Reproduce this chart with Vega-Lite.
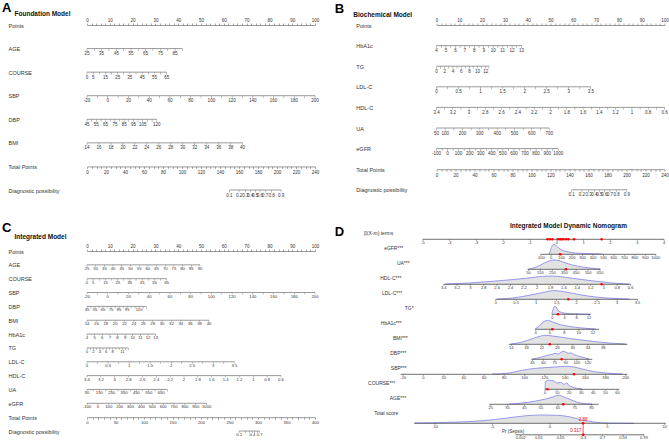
{
"$schema": "https://vega.github.io/schema/vega-lite/v6.json",
"background": "white",
"padding": {"left": 2, "top": 2, "right": 0, "bottom": 0},
"columns": 2,
"spacing": {"row": 25, "column": 15.5},
"align": "none",
"config": {"font": "Liberation Sans", "view": {"stroke": null}, "title": {"color": "#000"}},
"datasets": {
"A": [
{"r":"AGE","p":0,"t":"25"},{"r":"AGE","p":3.2,"t":""},{"r":"AGE","p":6.4,"t":"35"},{"r":"AGE","p":9.6,"t":""},{"r":"AGE","p":12.9,"t":"45"},{"r":"AGE","p":16.1,"t":""},{"r":"AGE","p":19.3,"t":"55"},{"r":"AGE","p":22.5,"t":""},{"r":"AGE","p":25.7,"t":"65"},{"r":"AGE","p":28.9,"t":""},{"r":"AGE","p":32.2,"t":"75"},{"r":"AGE","p":35.4,"t":""},{"r":"AGE","p":38.6,"t":"85"},{"r":"AGE","p":41.8,"t":""},
{"r":"COURSE","p":0,"t":"0"},{"r":"COURSE","p":2.7,"t":"5"},{"r":"COURSE","p":5.4,"t":""},{"r":"COURSE","p":8.1,"t":"15"},{"r":"COURSE","p":10.8,"t":""},{"r":"COURSE","p":13.5,"t":"25"},{"r":"COURSE","p":16.1,"t":""},{"r":"COURSE","p":18.8,"t":"35"},{"r":"COURSE","p":21.5,"t":""},{"r":"COURSE","p":24.2,"t":"45"},{"r":"COURSE","p":26.9,"t":""},{"r":"COURSE","p":29.6,"t":"55"},{"r":"COURSE","p":32.3,"t":""},{"r":"COURSE","p":35.0,"t":"65"},
{"r":"SBP","p":0,"t":"-20"},{"r":"SBP","p":4.55,"t":""},{"r":"SBP","p":9.09,"t":"0"},{"r":"SBP","p":13.64,"t":""},{"r":"SBP","p":18.18,"t":"20"},{"r":"SBP","p":22.73,"t":""},{"r":"SBP","p":27.27,"t":"40"},{"r":"SBP","p":31.82,"t":""},{"r":"SBP","p":36.36,"t":"60"},{"r":"SBP","p":40.91,"t":""},{"r":"SBP","p":45.45,"t":"80"},{"r":"SBP","p":50,"t":""},{"r":"SBP","p":54.55,"t":"100"},{"r":"SBP","p":59.09,"t":""},{"r":"SBP","p":63.64,"t":"120"},{"r":"SBP","p":68.18,"t":""},{"r":"SBP","p":72.73,"t":"140"},{"r":"SBP","p":77.27,"t":""},{"r":"SBP","p":81.82,"t":"160"},{"r":"SBP","p":86.36,"t":""},{"r":"SBP","p":90.91,"t":"180"},{"r":"SBP","p":95.45,"t":""},{"r":"SBP","p":100,"t":"200"},
{"r":"DBP","p":0,"t":"45"},{"r":"DBP","p":2.04,"t":""},{"r":"DBP","p":4.08,"t":"55"},{"r":"DBP","p":6.11,"t":""},{"r":"DBP","p":8.15,"t":"65"},{"r":"DBP","p":10.19,"t":""},{"r":"DBP","p":12.23,"t":"75"},{"r":"DBP","p":14.26,"t":""},{"r":"DBP","p":16.3,"t":"85"},{"r":"DBP","p":18.34,"t":""},{"r":"DBP","p":20.38,"t":"95"},{"r":"DBP","p":22.41,"t":""},{"r":"DBP","p":24.45,"t":"105"},{"r":"DBP","p":26.49,"t":""},{"r":"DBP","p":28.53,"t":""},{"r":"DBP","p":30.56,"t":"120"},
{"r":"BMI","p":0,"t":"14"},{"r":"BMI","p":5.25,"t":"16"},{"r":"BMI","p":10.5,"t":"18"},{"r":"BMI","p":15.75,"t":"20"},{"r":"BMI","p":21,"t":"22"},{"r":"BMI","p":26.25,"t":"24"},{"r":"BMI","p":31.5,"t":"26"},{"r":"BMI","p":36.75,"t":"28"},{"r":"BMI","p":42,"t":"30"},{"r":"BMI","p":47.25,"t":"32"},{"r":"BMI","p":52.5,"t":"34"},{"r":"BMI","p":57.75,"t":"36"},{"r":"BMI","p":63,"t":"38"},{"r":"BMI","p":68.25,"t":"40"}
],
"Ad": [
{"r":"Diagnostic possibility","p":149.9,"t":"0.1"},{"r":"Diagnostic possibility","p":160.0,"t":"0.2"},{"r":"Diagnostic possibility","p":166.6,"t":"0.3"},{"r":"Diagnostic possibility","p":172.1,"t":"0.4"},{"r":"Diagnostic possibility","p":177.1,"t":"0.5"},{"r":"Diagnostic possibility","p":182.1,"t":"0.6"},{"r":"Diagnostic possibility","p":187.6,"t":"0.7"},{"r":"Diagnostic possibility","p":194.3,"t":"0.8"},{"r":"Diagnostic possibility","p":204.3,"t":"0.9"}
],
"B": [
{"r":"HbA1c","p":0,"t":"4"},{"r":"HbA1c","p":2.07,"t":""},{"r":"HbA1c","p":4.14,"t":"5"},{"r":"HbA1c","p":6.21,"t":""},{"r":"HbA1c","p":8.28,"t":"6"},{"r":"HbA1c","p":10.36,"t":""},{"r":"HbA1c","p":12.43,"t":"7"},{"r":"HbA1c","p":14.5,"t":""},{"r":"HbA1c","p":16.57,"t":"8"},{"r":"HbA1c","p":18.64,"t":""},{"r":"HbA1c","p":20.71,"t":"9"},{"r":"HbA1c","p":22.78,"t":""},{"r":"HbA1c","p":24.85,"t":"10"},{"r":"HbA1c","p":26.92,"t":""},{"r":"HbA1c","p":29.0,"t":"11"},{"r":"HbA1c","p":31.07,"t":""},{"r":"HbA1c","p":33.14,"t":"12"},{"r":"HbA1c","p":35.21,"t":""},{"r":"HbA1c","p":37.28,"t":"13"},
{"r":"TG","p":0,"t":"0"},{"r":"TG","p":1.8,"t":""},{"r":"TG","p":3.61,"t":"2"},{"r":"TG","p":5.41,"t":""},{"r":"TG","p":7.21,"t":"4"},{"r":"TG","p":9.02,"t":""},{"r":"TG","p":10.82,"t":"6"},{"r":"TG","p":12.62,"t":""},{"r":"TG","p":14.42,"t":"8"},{"r":"TG","p":16.23,"t":""},{"r":"TG","p":18.03,"t":"10"},{"r":"TG","p":19.83,"t":""},{"r":"TG","p":21.64,"t":"12"},{"r":"TG","p":23.0,"t":""},
{"r":"LDL-C","p":0,"t":"0"},{"r":"LDL-C","p":4.84,"t":""},{"r":"LDL-C","p":9.67,"t":"0.5"},{"r":"LDL-C","p":14.51,"t":""},{"r":"LDL-C","p":19.34,"t":"1"},{"r":"LDL-C","p":24.18,"t":""},{"r":"LDL-C","p":29.01,"t":"1.5"},{"r":"LDL-C","p":33.85,"t":""},{"r":"LDL-C","p":38.68,"t":"2"},{"r":"LDL-C","p":43.52,"t":""},{"r":"LDL-C","p":48.35,"t":"2.5"},{"r":"LDL-C","p":53.19,"t":""},{"r":"LDL-C","p":58.02,"t":"3"},{"r":"LDL-C","p":62.86,"t":""},{"r":"LDL-C","p":67.69,"t":"3.5"},
{"r":"HDL-C","p":0,"t":"3.4"},{"r":"HDL-C","p":3.57,"t":""},{"r":"HDL-C","p":7.14,"t":"3.2"},{"r":"HDL-C","p":10.71,"t":""},{"r":"HDL-C","p":14.29,"t":"3"},{"r":"HDL-C","p":17.86,"t":""},{"r":"HDL-C","p":21.43,"t":"2.8"},{"r":"HDL-C","p":25,"t":""},{"r":"HDL-C","p":28.57,"t":"2.6"},{"r":"HDL-C","p":32.14,"t":""},{"r":"HDL-C","p":35.71,"t":"2.4"},{"r":"HDL-C","p":39.29,"t":""},{"r":"HDL-C","p":42.86,"t":"2.2"},{"r":"HDL-C","p":46.43,"t":""},{"r":"HDL-C","p":50,"t":"2"},{"r":"HDL-C","p":53.57,"t":""},{"r":"HDL-C","p":57.14,"t":"1.8"},{"r":"HDL-C","p":60.71,"t":""},{"r":"HDL-C","p":64.29,"t":"1.6"},{"r":"HDL-C","p":67.86,"t":""},{"r":"HDL-C","p":71.43,"t":"1.4"},{"r":"HDL-C","p":75,"t":""},{"r":"HDL-C","p":78.57,"t":"1.2"},{"r":"HDL-C","p":82.14,"t":""},{"r":"HDL-C","p":85.71,"t":"1"},{"r":"HDL-C","p":89.29,"t":""},{"r":"HDL-C","p":92.86,"t":"0.8"},{"r":"HDL-C","p":96.43,"t":""},{"r":"HDL-C","p":100,"t":"0.6"},
{"r":"UA","p":0,"t":"50"},{"r":"UA","p":3.8,"t":"100"},{"r":"UA","p":7.6,"t":""},{"r":"UA","p":11.4,"t":"200"},{"r":"UA","p":15.2,"t":""},{"r":"UA","p":19.0,"t":"300"},{"r":"UA","p":22.8,"t":""},{"r":"UA","p":26.6,"t":"400"},{"r":"UA","p":30.4,"t":""},{"r":"UA","p":34.2,"t":"500"},{"r":"UA","p":38.0,"t":""},{"r":"UA","p":41.8,"t":"600"},{"r":"UA","p":45.6,"t":""},{"r":"UA","p":49.4,"t":"700"},
{"r":"eGFR","p":0,"t":"-100"},{"r":"eGFR","p":2.43,"t":""},{"r":"eGFR","p":4.85,"t":"0"},{"r":"eGFR","p":7.28,"t":""},{"r":"eGFR","p":9.7,"t":"100"},{"r":"eGFR","p":12.13,"t":""},{"r":"eGFR","p":14.56,"t":"200"},{"r":"eGFR","p":16.98,"t":""},{"r":"eGFR","p":19.41,"t":"300"},{"r":"eGFR","p":21.83,"t":""},{"r":"eGFR","p":24.26,"t":"400"},{"r":"eGFR","p":26.69,"t":""},{"r":"eGFR","p":29.11,"t":"500"},{"r":"eGFR","p":31.54,"t":""},{"r":"eGFR","p":33.96,"t":"600"},{"r":"eGFR","p":36.39,"t":""},{"r":"eGFR","p":38.82,"t":"700"},{"r":"eGFR","p":41.24,"t":""},{"r":"eGFR","p":43.67,"t":"800"},{"r":"eGFR","p":46.09,"t":""},{"r":"eGFR","p":48.52,"t":"900"},{"r":"eGFR","p":50.95,"t":""},{"r":"eGFR","p":53.37,"t":"1000"}
],
"Bd": [
{"r":"Diagnostic possibility","p":142.3,"t":"0.1"},{"r":"Diagnostic possibility","p":153.1,"t":"0.2"},{"r":"Diagnostic possibility","p":160.2,"t":"0.3"},{"r":"Diagnostic possibility","p":166.1,"t":"0.4"},{"r":"Diagnostic possibility","p":171.4,"t":"0.5"},{"r":"Diagnostic possibility","p":176.6,"t":"0.6"},{"r":"Diagnostic possibility","p":182.5,"t":"0.7"},{"r":"Diagnostic possibility","p":189.6,"t":"0.8"},{"r":"Diagnostic possibility","p":200.4,"t":"0.9"}
],
"C": [
{"r":"AGE","p":0,"t":"25"},{"r":"AGE","p":3.81,"t":"30"},{"r":"AGE","p":7.63,"t":"35"},{"r":"AGE","p":11.44,"t":"40"},{"r":"AGE","p":15.25,"t":"45"},{"r":"AGE","p":19.07,"t":"50"},{"r":"AGE","p":22.88,"t":"55"},{"r":"AGE","p":26.69,"t":"60"},{"r":"AGE","p":30.5,"t":"65"},{"r":"AGE","p":34.32,"t":"70"},{"r":"AGE","p":38.13,"t":"75"},{"r":"AGE","p":41.94,"t":"80"},{"r":"AGE","p":45.76,"t":"85"},{"r":"AGE","p":49.57,"t":"90"},
{"r":"COURSE","p":0,"t":"0"},{"r":"COURSE","p":2.7,"t":"5"},{"r":"COURSE","p":5.4,"t":""},{"r":"COURSE","p":8.1,"t":"15"},{"r":"COURSE","p":10.8,"t":""},{"r":"COURSE","p":13.5,"t":"25"},{"r":"COURSE","p":16.1,"t":""},{"r":"COURSE","p":18.8,"t":"35"},{"r":"COURSE","p":21.5,"t":""},{"r":"COURSE","p":24.2,"t":"45"},{"r":"COURSE","p":26.9,"t":""},{"r":"COURSE","p":29.6,"t":"55"},{"r":"COURSE","p":32.3,"t":""},{"r":"COURSE","p":35.0,"t":"65"},
{"r":"SBP","p":0,"t":"-20"},{"r":"SBP","p":4.55,"t":""},{"r":"SBP","p":9.09,"t":"0"},{"r":"SBP","p":13.64,"t":""},{"r":"SBP","p":18.18,"t":"20"},{"r":"SBP","p":22.73,"t":""},{"r":"SBP","p":27.27,"t":"40"},{"r":"SBP","p":31.82,"t":""},{"r":"SBP","p":36.36,"t":"60"},{"r":"SBP","p":40.91,"t":""},{"r":"SBP","p":45.45,"t":"80"},{"r":"SBP","p":50,"t":""},{"r":"SBP","p":54.55,"t":"100"},{"r":"SBP","p":59.09,"t":""},{"r":"SBP","p":63.64,"t":"120"},{"r":"SBP","p":68.18,"t":""},{"r":"SBP","p":72.73,"t":"140"},{"r":"SBP","p":77.27,"t":""},{"r":"SBP","p":81.82,"t":"160"},{"r":"SBP","p":86.36,"t":""},{"r":"SBP","p":90.91,"t":"180"},{"r":"SBP","p":95.45,"t":""},{"r":"SBP","p":100,"t":"200"},
{"r":"DBP","p":0,"t":"45"},{"r":"DBP","p":1.76,"t":""},{"r":"DBP","p":3.52,"t":"55"},{"r":"DBP","p":5.28,"t":""},{"r":"DBP","p":7.04,"t":"65"},{"r":"DBP","p":8.8,"t":""},{"r":"DBP","p":10.56,"t":"75"},{"r":"DBP","p":12.32,"t":""},{"r":"DBP","p":14.08,"t":"85"},{"r":"DBP","p":15.84,"t":""},{"r":"DBP","p":17.6,"t":"95"},{"r":"DBP","p":19.36,"t":""},{"r":"DBP","p":21.12,"t":""},{"r":"DBP","p":22.88,"t":"110"},{"r":"DBP","p":24.64,"t":""},{"r":"DBP","p":26.0,"t":""},
{"r":"BMI","p":0,"t":"14"},{"r":"BMI","p":4.12,"t":"16"},{"r":"BMI","p":8.23,"t":"18"},{"r":"BMI","p":12.35,"t":"20"},{"r":"BMI","p":16.46,"t":"22"},{"r":"BMI","p":20.58,"t":"24"},{"r":"BMI","p":24.7,"t":"26"},{"r":"BMI","p":28.81,"t":"28"},{"r":"BMI","p":32.93,"t":"30"},{"r":"BMI","p":37.04,"t":"32"},{"r":"BMI","p":41.16,"t":"34"},{"r":"BMI","p":45.28,"t":"36"},{"r":"BMI","p":49.39,"t":"38"},{"r":"BMI","p":53.51,"t":"40"},
{"r":"HbA1c","p":0,"t":"4"},{"r":"HbA1c","p":3.35,"t":"5"},{"r":"HbA1c","p":6.69,"t":"6"},{"r":"HbA1c","p":10.04,"t":"7"},{"r":"HbA1c","p":13.38,"t":"8"},{"r":"HbA1c","p":16.73,"t":"9"},{"r":"HbA1c","p":20.07,"t":"10"},{"r":"HbA1c","p":23.42,"t":"11"},{"r":"HbA1c","p":26.76,"t":"12"},{"r":"HbA1c","p":30.11,"t":"13"},
{"r":"TG","p":0,"t":"0"},{"r":"TG","p":1.41,"t":""},{"r":"TG","p":2.82,"t":"2"},{"r":"TG","p":4.23,"t":""},{"r":"TG","p":5.64,"t":"4"},{"r":"TG","p":7.05,"t":""},{"r":"TG","p":8.46,"t":"6"},{"r":"TG","p":9.87,"t":""},{"r":"TG","p":11.28,"t":"8"},{"r":"TG","p":12.69,"t":""},{"r":"TG","p":14.1,"t":""},{"r":"TG","p":15.51,"t":"11"},{"r":"TG","p":16.92,"t":""},{"r":"TG","p":18.1,"t":""},
{"r":"LDL-C","p":0,"t":"0"},{"r":"LDL-C","p":4.62,"t":""},{"r":"LDL-C","p":9.23,"t":"0.5"},{"r":"LDL-C","p":13.85,"t":""},{"r":"LDL-C","p":18.46,"t":"1"},{"r":"LDL-C","p":23.08,"t":""},{"r":"LDL-C","p":27.69,"t":"1.5"},{"r":"LDL-C","p":32.31,"t":""},{"r":"LDL-C","p":36.92,"t":"2"},{"r":"LDL-C","p":41.54,"t":""},{"r":"LDL-C","p":46.15,"t":"2.5"},{"r":"LDL-C","p":50.77,"t":""},{"r":"LDL-C","p":55.38,"t":"3"},{"r":"LDL-C","p":60,"t":""},{"r":"LDL-C","p":64.61,"t":"3.5"},
{"r":"HDL-C","p":0,"t":"3.4"},{"r":"HDL-C","p":6.08,"t":"3.2"},{"r":"HDL-C","p":12.16,"t":"3"},{"r":"HDL-C","p":18.23,"t":"2.8"},{"r":"HDL-C","p":24.31,"t":"2.6"},{"r":"HDL-C","p":30.39,"t":"2.4"},{"r":"HDL-C","p":36.47,"t":"2.2"},{"r":"HDL-C","p":42.55,"t":"2"},{"r":"HDL-C","p":48.62,"t":"1.8"},{"r":"HDL-C","p":54.7,"t":"1.6"},{"r":"HDL-C","p":60.78,"t":"1.4"},{"r":"HDL-C","p":66.86,"t":"1.2"},{"r":"HDL-C","p":72.94,"t":"1"},{"r":"HDL-C","p":79.01,"t":"0.8"},{"r":"HDL-C","p":85.09,"t":"0.6"},
{"r":"UA","p":0,"t":"50"},{"r":"UA","p":2.71,"t":""},{"r":"UA","p":5.42,"t":"150"},{"r":"UA","p":8.13,"t":""},{"r":"UA","p":10.84,"t":"250"},{"r":"UA","p":13.55,"t":""},{"r":"UA","p":16.26,"t":"350"},{"r":"UA","p":18.97,"t":""},{"r":"UA","p":21.68,"t":"450"},{"r":"UA","p":24.39,"t":""},{"r":"UA","p":27.1,"t":"550"},{"r":"UA","p":29.81,"t":""},{"r":"UA","p":32.52,"t":"650"},{"r":"UA","p":35.23,"t":""},
{"r":"eGFR","p":0,"t":"-100"},{"r":"eGFR","p":4.77,"t":"0"},{"r":"eGFR","p":9.54,"t":"100"},{"r":"eGFR","p":14.31,"t":"200"},{"r":"eGFR","p":19.08,"t":"300"},{"r":"eGFR","p":23.85,"t":"400"},{"r":"eGFR","p":28.62,"t":"500"},{"r":"eGFR","p":33.39,"t":"600"},{"r":"eGFR","p":38.16,"t":"700"},{"r":"eGFR","p":42.93,"t":"800"},{"r":"eGFR","p":47.7,"t":"900"},{"r":"eGFR","p":52.47,"t":"1000"}
],
"Cd": [
{"r":"Diagnostic possibility","p":266.8,"t":"0.1"},{"r":"Diagnostic possibility","p":278.0,"t":""},{"r":"Diagnostic possibility","p":284.8,"t":""},{"r":"Diagnostic possibility","p":290.0,"t":"0.4"},{"r":"Diagnostic possibility","p":294.4,"t":""},{"r":"Diagnostic possibility","p":298.8,"t":""},{"r":"Diagnostic possibility","p":302.8,"t":"0.7"}
],
"D": [
{"r":"β(X-m) terms","k":"t","p":-5,"t":"-5"},{"r":"β(X-m) terms","k":"t","p":-4,"t":"-4"},{"r":"β(X-m) terms","k":"t","p":-3,"t":"-3"},{"r":"β(X-m) terms","k":"t","p":-2,"t":"-2"},{"r":"β(X-m) terms","k":"t","p":-1,"t":"-1"},{"r":"β(X-m) terms","k":"t","p":0,"t":"0"},{"r":"β(X-m) terms","k":"t","p":1,"t":"1"},{"r":"β(X-m) terms","k":"t","p":2,"t":"2"},{"r":"β(X-m) terms","k":"t","p":3,"t":"3"},{"r":"β(X-m) terms","k":"t","p":4,"t":"4"},
{"r":"β(X-m) terms","k":"r","p":-0.35},{"r":"β(X-m) terms","k":"r","p":-0.26},{"r":"β(X-m) terms","k":"r","p":-0.17},{"r":"β(X-m) terms","k":"r","p":0.04},{"r":"β(X-m) terms","k":"r","p":0.12},{"r":"β(X-m) terms","k":"r","p":0.18},{"r":"β(X-m) terms","k":"r","p":0.24},{"r":"β(X-m) terms","k":"r","p":0.34},{"r":"β(X-m) terms","k":"r","p":0.43},{"r":"β(X-m) terms","k":"r","p":0.64},{"r":"β(X-m) terms","k":"r","p":1.67},
{"r":"eGFR***","k":"t","p":-0.6,"t":"-100"},{"r":"eGFR***","k":"t","p":-0.21,"t":"0"},{"r":"eGFR***","k":"t","p":0.18,"t":"100"},{"r":"eGFR***","k":"t","p":0.57,"t":"200"},{"r":"eGFR***","k":"t","p":0.96,"t":"300"},{"r":"eGFR***","k":"t","p":1.35,"t":"400"},{"r":"eGFR***","k":"t","p":1.74,"t":"500"},{"r":"eGFR***","k":"t","p":2.13,"t":"600"},{"r":"eGFR***","k":"t","p":2.52,"t":"700"},{"r":"eGFR***","k":"t","p":2.91,"t":"800"},{"r":"eGFR***","k":"t","p":3.3,"t":"900"},{"r":"eGFR***","k":"t","p":3.69,"t":"1000"},
{"r":"eGFR***","k":"d","p":-0.29,"h":0.3},{"r":"eGFR***","k":"d","p":-0.23,"h":4.7},{"r":"eGFR***","k":"d","p":-0.17,"h":8.7},{"r":"eGFR***","k":"d","p":-0.11,"h":10},{"r":"eGFR***","k":"d","p":-0.02,"h":8.7},{"r":"eGFR***","k":"d","p":0.08,"h":6},{"r":"eGFR***","k":"d","p":0.2,"h":4},{"r":"eGFR***","k":"d","p":0.39,"h":2.7},{"r":"eGFR***","k":"d","p":0.7,"h":1.3},{"r":"eGFR***","k":"d","p":1.2,"h":0.7},{"r":"eGFR***","k":"d","p":1.7,"h":0.3},
{"r":"eGFR***","k":"r","p":0.12},
{"r":"UA***","k":"t","p":-1.06,"t":"50"},{"r":"UA***","k":"t","p":-0.615,"t":"150"},{"r":"UA***","k":"t","p":-0.17,"t":"250"},{"r":"UA***","k":"t","p":0.28,"t":"350"},{"r":"UA***","k":"t","p":0.72,"t":"450"},{"r":"UA***","k":"t","p":1.17,"t":"550"},{"r":"UA***","k":"t","p":1.61,"t":"650"},
{"r":"UA***","k":"d","p":-1.1,"h":0},{"r":"UA***","k":"d","p":-0.79,"h":2},{"r":"UA***","k":"d","p":-0.54,"h":5.3},{"r":"UA***","k":"d","p":-0.29,"h":8.3},{"r":"UA***","k":"d","p":-0.11,"h":9.3},{"r":"UA***","k":"d","p":0.08,"h":8.7},{"r":"UA***","k":"d","p":0.33,"h":6.3},{"r":"UA***","k":"d","p":0.58,"h":4.3},{"r":"UA***","k":"d","p":0.95,"h":2.3},{"r":"UA***","k":"d","p":1.32,"h":1},{"r":"UA***","k":"d","p":1.63,"h":0.3},
{"r":"UA***","k":"r","p":0.34},
{"r":"HDL-C***","k":"t","p":-4.22,"t":"3.4"},{"r":"HDL-C***","k":"t","p":-3.72,"t":"3.2"},{"r":"HDL-C***","k":"t","p":-3.23,"t":"3"},{"r":"HDL-C***","k":"t","p":-2.73,"t":"2.8"},{"r":"HDL-C***","k":"t","p":-2.23,"t":"2.6"},{"r":"HDL-C***","k":"t","p":-1.73,"t":"2.4"},{"r":"HDL-C***","k":"t","p":-1.23,"t":"2.2"},{"r":"HDL-C***","k":"t","p":-0.74,"t":"2"},{"r":"HDL-C***","k":"t","p":-0.24,"t":"1.8"},{"r":"HDL-C***","k":"t","p":0.26,"t":"1.6"},{"r":"HDL-C***","k":"t","p":0.76,"t":"1.4"},{"r":"HDL-C***","k":"t","p":1.26,"t":"1.2"},{"r":"HDL-C***","k":"t","p":1.75,"t":"1"},{"r":"HDL-C***","k":"t","p":2.25,"t":"0.8"},{"r":"HDL-C***","k":"t","p":2.75,"t":"0.6"},
{"r":"HDL-C***","k":"d","p":-4.15,"h":0.3},{"r":"HDL-C***","k":"d","p":-3.28,"h":1.3},{"r":"HDL-C***","k":"d","p":-2.41,"h":3},{"r":"HDL-C***","k":"d","p":-1.66,"h":4.7},{"r":"HDL-C***","k":"d","p":-1.04,"h":6.3},{"r":"HDL-C***","k":"d","p":-0.54,"h":8},{"r":"HDL-C***","k":"d","p":-0.17,"h":8.3},{"r":"HDL-C***","k":"d","p":0.33,"h":7},{"r":"HDL-C***","k":"d","p":0.95,"h":4.7},{"r":"HDL-C***","k":"d","p":1.57,"h":2.7},{"r":"HDL-C***","k":"d","p":2.19,"h":1},{"r":"HDL-C***","k":"d","p":2.69,"h":0.3},
{"r":"HDL-C***","k":"r","p":1.67},
{"r":"LDL-C***","k":"t","p":-2.28,"t":"0"},{"r":"LDL-C***","k":"t","p":-1.52,"t":"0.5"},{"r":"LDL-C***","k":"t","p":-0.77,"t":"1"},{"r":"LDL-C***","k":"t","p":-0.01,"t":"1.5"},{"r":"LDL-C***","k":"t","p":0.74,"t":"2"},{"r":"LDL-C***","k":"t","p":1.5,"t":"2.5"},{"r":"LDL-C***","k":"t","p":2.25,"t":"3"},{"r":"LDL-C***","k":"t","p":3.01,"t":"3.5"},
{"r":"LDL-C***","k":"d","p":-2.22,"h":0.3},{"r":"LDL-C***","k":"d","p":-1.66,"h":1.3},{"r":"LDL-C***","k":"d","p":-1.04,"h":4},{"r":"LDL-C***","k":"d","p":-0.54,"h":6.7},{"r":"LDL-C***","k":"d","p":-0.11,"h":8.7},{"r":"LDL-C***","k":"d","p":0.33,"h":7.3},{"r":"LDL-C***","k":"d","p":0.83,"h":4.7},{"r":"LDL-C***","k":"d","p":1.45,"h":2.3},{"r":"LDL-C***","k":"d","p":2.07,"h":1},{"r":"LDL-C***","k":"d","p":2.69,"h":0.3},
{"r":"LDL-C***","k":"r","p":0.43},
{"r":"TG*","k":"t","p":-0.17,"t":"0"},{"r":"TG*","k":"t","p":0.29,"t":"4"},{"r":"TG*","k":"t","p":0.74,"t":"8"},{"r":"TG*","k":"t","p":1.2,"t":"12"},{"r":"TG*","k":"e","p":1.26},
{"r":"TG*","k":"d","p":-0.19,"h":0.3},{"r":"TG*","k":"d","p":-0.14,"h":5},{"r":"TG*","k":"d","p":-0.09,"h":8},{"r":"TG*","k":"d","p":-0.02,"h":7},{"r":"TG*","k":"d","p":0.05,"h":3.7},{"r":"TG*","k":"d","p":0.2,"h":1.7},{"r":"TG*","k":"d","p":0.45,"h":0.7},{"r":"TG*","k":"d","p":0.83,"h":0.3},{"r":"TG*","k":"d","p":1.26,"h":0},
{"r":"TG*","k":"r","p":0.04},
{"r":"HbA1c***","k":"t","p":-0.79,"t":"4"},{"r":"HbA1c***","k":"t","p":-0.26,"t":"6"},{"r":"HbA1c***","k":"t","p":0.28,"t":"8"},{"r":"HbA1c***","k":"t","p":0.82,"t":"10"},{"r":"HbA1c***","k":"t","p":1.35,"t":"12"},{"r":"HbA1c***","k":"e","p":1.58},
{"r":"HbA1c***","k":"d","p":-0.82,"h":0.3},{"r":"HbA1c***","k":"d","p":-0.67,"h":3},{"r":"HbA1c***","k":"d","p":-0.52,"h":7},{"r":"HbA1c***","k":"d","p":-0.35,"h":9},{"r":"HbA1c***","k":"d","p":-0.17,"h":7.5},{"r":"HbA1c***","k":"d","p":0.08,"h":5},{"r":"HbA1c***","k":"d","p":0.33,"h":3.5},{"r":"HbA1c***","k":"d","p":0.7,"h":2},{"r":"HbA1c***","k":"d","p":1.07,"h":1},{"r":"HbA1c***","k":"d","p":1.45,"h":0.3},
{"r":"HbA1c***","k":"r","p":-0.17},
{"r":"BMI***","k":"t","p":-1.7,"t":"14"},{"r":"BMI***","k":"t","p":-1.13,"t":"18"},{"r":"BMI***","k":"t","p":-0.56,"t":"22"},{"r":"BMI***","k":"t","p":0.02,"t":"26"},{"r":"BMI***","k":"t","p":0.59,"t":"30"},{"r":"BMI***","k":"t","p":1.16,"t":"34"},{"r":"BMI***","k":"t","p":1.73,"t":"38"},{"r":"BMI***","k":"e","p":-1.79},{"r":"BMI***","k":"e","p":2.63},
{"r":"BMI***","k":"d","p":-1.72,"h":0.3},{"r":"BMI***","k":"d","p":-1.29,"h":2.3},{"r":"BMI***","k":"d","p":-0.91,"h":5.7},{"r":"BMI***","k":"d","p":-0.6,"h":8.3},{"r":"BMI***","k":"d","p":-0.42,"h":9},{"r":"BMI***","k":"d","p":-0.17,"h":8.3},{"r":"BMI***","k":"d","p":0.2,"h":7},{"r":"BMI***","k":"d","p":0.7,"h":5},{"r":"BMI***","k":"d","p":1.32,"h":3},{"r":"BMI***","k":"d","p":1.94,"h":1.3},{"r":"BMI***","k":"d","p":2.57,"h":0.3},
{"r":"BMI***","k":"r","p":-0.26},
{"r":"DBP***","k":"t","p":-0.91,"t":"45"},{"r":"DBP***","k":"t","p":-0.5,"t":"60"},{"r":"DBP***","k":"t","p":-0.08,"t":"75"},{"r":"DBP***","k":"t","p":0.33,"t":"90"},{"r":"DBP***","k":"t","p":0.75,"t":"105"},{"r":"DBP***","k":"t","p":1.16,"t":"120"},{"r":"DBP***","k":"e","p":-0.95},{"r":"DBP***","k":"e","p":1.32},
{"r":"DBP***","k":"d","p":-0.91,"h":0.3},{"r":"DBP***","k":"d","p":-0.6,"h":2},{"r":"DBP***","k":"d","p":-0.35,"h":4},{"r":"DBP***","k":"d","p":-0.17,"h":5},{"r":"DBP***","k":"d","p":-0.05,"h":6},{"r":"DBP***","k":"d","p":0.05,"h":5.3},{"r":"DBP***","k":"d","p":0.14,"h":6.7},{"r":"DBP***","k":"d","p":0.24,"h":8},{"r":"DBP***","k":"d","p":0.33,"h":7.3},{"r":"DBP***","k":"d","p":0.43,"h":6},{"r":"DBP***","k":"d","p":0.53,"h":6.3},{"r":"DBP***","k":"d","p":0.64,"h":4.7},{"r":"DBP***","k":"d","p":0.83,"h":3},{"r":"DBP***","k":"d","p":1.01,"h":1.7},{"r":"DBP***","k":"d","p":1.2,"h":0.3},
{"r":"DBP***","k":"r","p":0.18},
{"r":"SBP***","k":"t","p":-5.73,"t":"-20"},{"r":"SBP***","k":"t","p":-4.98,"t":"0"},{"r":"SBP***","k":"t","p":-4.22,"t":"20"},{"r":"SBP***","k":"t","p":-3.47,"t":"40"},{"r":"SBP***","k":"t","p":-2.71,"t":"60"},{"r":"SBP***","k":"t","p":-1.96,"t":"80"},{"r":"SBP***","k":"t","p":-1.2,"t":"100"},{"r":"SBP***","k":"t","p":-0.45,"t":"120"},{"r":"SBP***","k":"t","p":0.31,"t":"140"},{"r":"SBP***","k":"t","p":1.06,"t":"160"},{"r":"SBP***","k":"t","p":1.82,"t":"180"},{"r":"SBP***","k":"t","p":2.57,"t":"200"},{"r":"SBP***","k":"e","p":-5.83},{"r":"SBP***","k":"e","p":2.63},
{"r":"SBP***","k":"d","p":-2.41,"h":0.3},{"r":"SBP***","k":"d","p":-1.79,"h":1.3},{"r":"SBP***","k":"d","p":-1.29,"h":4},{"r":"SBP***","k":"d","p":-0.79,"h":6},{"r":"SBP***","k":"d","p":-0.42,"h":6.7},{"r":"SBP***","k":"d","p":-0.05,"h":7.3},{"r":"SBP***","k":"d","p":0.33,"h":8},{"r":"SBP***","k":"d","p":0.64,"h":7.3},{"r":"SBP***","k":"d","p":0.95,"h":5.3},{"r":"SBP***","k":"d","p":1.32,"h":3},{"r":"SBP***","k":"d","p":1.82,"h":1.3},{"r":"SBP***","k":"d","p":2.44,"h":0.3},
{"r":"SBP***","k":"r","p":0.64},
{"r":"COURSE***","k":"t","p":-0.44,"t":"0"},{"r":"COURSE***","k":"t","p":0.01,"t":"10"},{"r":"COURSE***","k":"t","p":0.46,"t":"20"},{"r":"COURSE***","k":"t","p":0.91,"t":"30"},{"r":"COURSE***","k":"t","p":1.36,"t":"40"},{"r":"COURSE***","k":"t","p":1.81,"t":"50"},{"r":"COURSE***","k":"t","p":2.26,"t":"60"},{"r":"COURSE***","k":"e","p":2.33},
{"r":"COURSE***","k":"d","p":-0.44,"h":0},{"r":"COURSE***","k":"d","p":-0.43,"h":7.3},{"r":"COURSE***","k":"d","p":-0.29,"h":9},{"r":"COURSE***","k":"d","p":-0.11,"h":8.3},{"r":"COURSE***","k":"d","p":0.02,"h":6.3},{"r":"COURSE***","k":"d","p":0.14,"h":7},{"r":"COURSE***","k":"d","p":0.27,"h":5},{"r":"COURSE***","k":"d","p":0.37,"h":6.3},{"r":"COURSE***","k":"d","p":0.45,"h":4},{"r":"COURSE***","k":"d","p":0.58,"h":2.3},{"r":"COURSE***","k":"d","p":0.76,"h":1},{"r":"COURSE***","k":"d","p":0.95,"h":0.3},
{"r":"COURSE***","k":"r","p":-0.35},
{"r":"AGE***","k":"t","p":-2.47,"t":"25"},{"r":"AGE***","k":"t","p":-1.84,"t":"35"},{"r":"AGE***","k":"t","p":-1.21,"t":"45"},{"r":"AGE***","k":"t","p":-0.59,"t":"55"},{"r":"AGE***","k":"t","p":0.04,"t":"65"},{"r":"AGE***","k":"t","p":0.67,"t":"75"},{"r":"AGE***","k":"t","p":1.3,"t":"85"},{"r":"AGE***","k":"e","p":-2.52},{"r":"AGE***","k":"e","p":1.56},
{"r":"AGE***","k":"d","p":-1.79,"h":0.3},{"r":"AGE***","k":"d","p":-1.29,"h":1.3},{"r":"AGE***","k":"d","p":-0.79,"h":3.3},{"r":"AGE***","k":"d","p":-0.42,"h":5.3},{"r":"AGE***","k":"d","p":-0.11,"h":7.7},{"r":"AGE***","k":"d","p":0.05,"h":9},{"r":"AGE***","k":"d","p":0.27,"h":7.3},{"r":"AGE***","k":"d","p":0.51,"h":4.7},{"r":"AGE***","k":"d","p":0.76,"h":2},{"r":"AGE***","k":"d","p":1.01,"h":0.7},{"r":"AGE***","k":"d","p":1.32,"h":0.3},
{"r":"AGE***","k":"r","p":0.24},
{"r":"Total score","k":"t","p":-4.54,"t":"-10"},{"r":"Total score","k":"t","p":-2.4,"t":"-5"},{"r":"Total score","k":"t","p":-0.26,"t":"0"},{"r":"Total score","k":"t","p":1.88,"t":"5"},{"r":"Total score","k":"t","p":4.02,"t":"10"},{"r":"Total score","k":"e","p":-5.31},{"r":"Total score","k":"e","p":4.06},
{"r":"Total score","k":"d","p":-5.33,"h":0.3},{"r":"Total score","k":"d","p":-3.96,"h":1},{"r":"Total score","k":"d","p":-2.72,"h":2.7},{"r":"Total score","k":"d","p":-1.85,"h":5.3},{"r":"Total score","k":"d","p":-1.1,"h":7.7},{"r":"Total score","k":"d","p":-0.48,"h":8.3},{"r":"Total score","k":"d","p":0.02,"h":8},{"r":"Total score","k":"d","p":0.51,"h":6.3},{"r":"Total score","k":"d","p":0.95,"h":3.3},{"r":"Total score","k":"d","p":1.38,"h":1.3},{"r":"Total score","k":"d","p":1.88,"h":0.3},{"r":"Total score","k":"d","p":2.88,"h":0},
{"r":"Total score","k":"r","p":0.98},{"r":"Total score","k":"s","p":0.98,"t":"2.88"},
{"r":" ","k":"t","p":-1.35,"t":"0.002"},{"r":" ","k":"t","p":-0.67,"t":"0.01"},{"r":" ","k":"t","p":0.14,"t":"0.05"},{"r":" ","k":"t","p":0.99,"t":"0.3"},{"r":" ","k":"t","p":1.7,"t":"0.7"},{"r":" ","k":"t","p":2.47,"t":"0.94"},{"r":" ","k":"t","p":3.25,"t":"0.99"},{"r":" ","k":"e","p":-1.54},
{"r":" ","k":"r","p":0.98},{"r":" ","k":"s","p":0.98,"t":"0.317"},{"r":" ","k":"n","p":-1.63,"t":"Pr (Sepsis)"}
]
},
"concat": [
{
"title": {"text": "A", "anchor": "start", "frame": "bounds", "fontSize": 13, "fontWeight": "bold", "dx": -6, "offset": -5},
"width": 228, "height": 165,
"encoding": {"y": {"field": "r", "type": "nominal", "scale": {"type": "point", "padding": 0, "domain": ["Points","AGE","COURSE","SBP","DBP","BMI","Total Points","Diagnostic possibility"]}, "axis": {"title": null, "domain": false, "ticks": false, "tickSize": 0, "labelAlign": "left", "labelPadding": 79, "labelFontSize": 5.5, "labelColor": "#333", "labelBaseline": "middle", "labelLimit": 0}}},
"layer": [
{"data": {"name": "A"},
"encoding": {"x": {"field": "p", "type": "quantitative", "scale": {"domain": [0,100], "nice": false, "zero": false}, "axis": {"orient": "top", "tickCount": 50, "labelExpr": "datum.value % 10 === 0 ? datum.label : ''", "labelFlush": false, "labelOverlap": false, "grid": false, "domainColor": "#555", "domainWidth": 0.6, "tickColor": "#555", "tickWidth": 0.5, "tickSize": 2, "labelFontSize": 4.5, "labelColor": "#333", "labelPadding": 1, "title": "Foundation Model", "titleX": -73, "titleY": -12, "titleAlign": "left", "titleBaseline": "middle", "titleAngle": 0, "titleFontSize": 6.5, "titleFontWeight": "bold", "titleColor": "#111"}}},
"layer": [
{"mark": {"type": "line", "color": "#555", "strokeWidth": 0.6}, "encoding": {"detail": {"field": "r"}}},
{"mark": {"type": "tick", "orient": "vertical", "size": 2.5, "thickness": 0.5, "yOffset": 1.2, "color": "#555"}},
{"transform": [{"filter": "datum.t !== ''"}], "mark": {"type": "text", "baseline": "top", "dy": 2.5, "fontSize": 4.5, "color": "#333"}, "encoding": {"text": {"field": "t"}}}
]},
{"data": {"name": "Ad"},
"encoding": {"x": {"field": "p", "type": "quantitative", "scale": {"domain": [0,240], "nice": false, "zero": false}, "axis": {"orient": "bottom", "offset": -23.57, "tickCount": 48, "labelExpr": "datum.value % 20 === 0 ? datum.label : ''", "labelFlush": false, "labelOverlap": false, "grid": false, "domainColor": "#555", "domainWidth": 0.6, "tickColor": "#555", "tickWidth": 0.5, "tickSize": 2, "labelFontSize": 4.5, "labelColor": "#333", "labelPadding": 1, "title": null}}},
"layer": [
{"mark": {"type": "line", "color": "#555", "strokeWidth": 0.6}, "encoding": {"detail": {"field": "r"}}},
{"mark": {"type": "tick", "orient": "vertical", "size": 2.5, "thickness": 0.5, "yOffset": 1.2, "color": "#555"}},
{"transform": [{"filter": "datum.t !== ''"}], "mark": {"type": "text", "baseline": "top", "dy": 2.5, "fontSize": 4.5, "color": "#333"}, "encoding": {"text": {"field": "t"}}}
]}
],
"resolve": {"scale": {"x": "independent"}, "axis": {"x": "independent"}}
},
{
"title": {"text": "B", "anchor": "start", "frame": "bounds", "fontSize": 13, "fontWeight": "bold", "dx": -18, "offset": -5},
"width": 228, "height": 164.8,
"encoding": {"y": {"field": "r", "type": "nominal", "scale": {"type": "point", "padding": 0, "domain": ["Points","HbA1c","TG","LDL-C","HDL-C","UA","eGFR","Total Points","Diagnostic possibility"]}, "axis": {"title": null, "domain": false, "ticks": false, "tickSize": 0, "labelAlign": "left", "labelPadding": 80.7, "labelFontSize": 5.5, "labelColor": "#333", "labelBaseline": "middle", "labelLimit": 0}}},
"layer": [
{"data": {"name": "B"},
"encoding": {"x": {"field": "p", "type": "quantitative", "scale": {"domain": [0,100], "nice": false, "zero": false}, "axis": {"orient": "top", "tickCount": 50, "labelExpr": "datum.value % 10 === 0 ? datum.label : ''", "labelFlush": false, "labelOverlap": false, "grid": false, "domainColor": "#555", "domainWidth": 0.6, "tickColor": "#555", "tickWidth": 0.5, "tickSize": 2, "labelFontSize": 4.5, "labelColor": "#333", "labelPadding": 1, "title": "Biochemical Model", "titleX": -83.7, "titleY": -11, "titleAlign": "left", "titleBaseline": "middle", "titleAngle": 0, "titleFontSize": 6.5, "titleFontWeight": "bold", "titleColor": "#111"}}},
"layer": [
{"mark": {"type": "line", "color": "#555", "strokeWidth": 0.6}, "encoding": {"detail": {"field": "r"}}},
{"mark": {"type": "tick", "orient": "vertical", "size": 2.5, "thickness": 0.5, "yOffset": 1.2, "color": "#555"}},
{"transform": [{"filter": "datum.t !== ''"}], "mark": {"type": "text", "baseline": "top", "dy": 2.5, "fontSize": 4.5, "color": "#333"}, "encoding": {"text": {"field": "t"}}}
]},
{"data": {"name": "Bd"},
"encoding": {"x": {"field": "p", "type": "quantitative", "scale": {"domain": [0,240], "nice": false, "zero": false}, "axis": {"orient": "bottom", "offset": -20.6, "tickCount": 48, "labelExpr": "datum.value % 20 === 0 ? datum.label : ''", "labelFlush": false, "labelOverlap": false, "grid": false, "domainColor": "#555", "domainWidth": 0.6, "tickColor": "#555", "tickWidth": 0.5, "tickSize": 2, "labelFontSize": 4.5, "labelColor": "#333", "labelPadding": 1, "title": null}}},
"layer": [
{"mark": {"type": "line", "color": "#555", "strokeWidth": 0.6}, "encoding": {"detail": {"field": "r"}}},
{"mark": {"type": "tick", "orient": "vertical", "size": 2.5, "thickness": 0.5, "yOffset": 1.2, "color": "#555"}},
{"transform": [{"filter": "datum.t !== ''"}], "mark": {"type": "text", "baseline": "top", "dy": 2.5, "fontSize": 4.5, "color": "#333"}, "encoding": {"text": {"field": "t"}}}
]}
],
"resolve": {"scale": {"x": "independent"}, "axis": {"x": "independent"}}
},
{
"title": {"text": "C", "anchor": "start", "frame": "bounds", "fontSize": 13, "fontWeight": "bold", "dx": -6, "offset": -2},
"width": 228, "height": 180,
"encoding": {"y": {"field": "r", "type": "nominal", "scale": {"type": "point", "padding": 0, "domain": ["Points","AGE","COURSE","SBP","DBP","BMI","HbA1c","TG","LDL-C","HDL-C","UA","eGFR","Total Points","Diagnostic possibility"]}, "axis": {"title": null, "domain": false, "ticks": false, "tickSize": 0, "labelAlign": "left", "labelPadding": 79, "labelFontSize": 5.5, "labelColor": "#333", "labelBaseline": "middle", "labelLimit": 0}}},
"layer": [
{"data": {"name": "C"},
"encoding": {"x": {"field": "p", "type": "quantitative", "scale": {"domain": [0,100], "nice": false, "zero": false}, "axis": {"orient": "top", "tickCount": 50, "labelExpr": "datum.value % 10 === 0 ? datum.label : ''", "labelFlush": false, "labelOverlap": false, "grid": false, "domainColor": "#555", "domainWidth": 0.6, "tickColor": "#555", "tickWidth": 0.5, "tickSize": 2, "labelFontSize": 4.5, "labelColor": "#333", "labelPadding": 1, "title": "Integrated Model", "titleX": -73, "titleY": -15, "titleAlign": "left", "titleBaseline": "middle", "titleAngle": 0, "titleFontSize": 6.5, "titleFontWeight": "bold", "titleColor": "#111"}}},
"layer": [
{"mark": {"type": "line", "color": "#555", "strokeWidth": 0.6}, "encoding": {"detail": {"field": "r"}}},
{"mark": {"type": "tick", "orient": "vertical", "size": 2, "thickness": 0.5, "yOffset": 1, "color": "#555"}},
{"transform": [{"filter": "datum.t !== ''"}], "mark": {"type": "text", "baseline": "top", "dy": 2, "fontSize": 4.2, "color": "#333"}, "encoding": {"text": {"field": "t"}}}
]},
{"data": {"name": "Cd"},
"encoding": {"x": {"field": "p", "type": "quantitative", "scale": {"domain": [0,400], "nice": false, "zero": false}, "axis": {"orient": "bottom", "offset": -13.85, "tickCount": 40, "labelExpr": "datum.value % 50 === 0 ? datum.label : ''", "labelFlush": false, "labelOverlap": false, "grid": false, "domainColor": "#555", "domainWidth": 0.6, "tickColor": "#555", "tickWidth": 0.5, "tickSize": 2, "labelFontSize": 4.2, "labelColor": "#333", "labelPadding": 1, "title": null}}},
"layer": [
{"mark": {"type": "line", "color": "#555", "strokeWidth": 0.6}, "encoding": {"detail": {"field": "r"}}},
{"mark": {"type": "tick", "orient": "vertical", "size": 2, "thickness": 0.5, "yOffset": 1, "color": "#555"}},
{"transform": [{"filter": "datum.t !== ''"}], "mark": {"type": "text", "baseline": "top", "dy": 2, "fontSize": 4.2, "color": "#333"}, "encoding": {"text": {"field": "t"}}}
]}
],
"resolve": {"scale": {"x": "independent"}, "axis": {"x": "independent"}}
},
{
"data": {"name": "D"},
"title": {"text": "Integrated Model Dynamic Nomogram", "anchor": "middle", "frame": "group", "fontSize": 6.5, "fontWeight": "bold", "color": "#111", "dx": 132, "offset": -3},
"spacing": {"row": 0},
"bounds": "flush",
"facet": {"row": {"field": "r", "type": "nominal", "title": "D", "sort": ["β(X-m) terms","eGFR***","UA***","HDL-C***","LDL-C***","TG*","HbA1c***","BMI***","DBP***","SBP***","COURSE***","AGE***","Total score"," "],
"header": {"labelAngle": 0, "labelOrient": "left", "labelAlign": "right", "labelPadding": 14, "labelFontSize": 5, "labelColor": "#333", "labelBaseline": "middle", "titleOrient": "left", "titleAngle": 0, "titleAnchor": "end", "titleFontSize": 13, "titleFontWeight": "bold", "titleColor": "#000", "titleBaseline": "top", "titlePadding": 0}}},
"spec": {
"width": 230, "height": 14.3,
"encoding": {"x": {"field": "p", "type": "quantitative", "scale": {"domain": [-4.49, 4.09], "nice": false, "zero": false}, "axis": null}},
"layer": [
{"transform": [{"filter": "datum.k === 'd'"}], "mark": {"type": "area", "interpolate": "monotone", "color": "#e2e2e2", "opacity": 1, "yOffset": {"expr": "datum.r === 'Total score' ? 4 : datum.r === ' ' ? 0.5 : 0"}, "y2Offset": {"expr": "datum.r === 'Total score' ? 4 : datum.r === ' ' ? 0.5 : 0"}}, "encoding": {"y": {"field": "h", "type": "quantitative", "scale": {"domain": [-1, 13.3], "nice": false, "zero": false}, "axis": null}, "y2": {"datum": 0}}},
{"transform": [{"filter": "datum.k === 'd'"}], "mark": {"type": "line", "interpolate": "monotone", "color": "#7272ee", "strokeWidth": 0.7, "yOffset": {"expr": "datum.r === 'Total score' ? 4 : datum.r === ' ' ? 0.5 : 0"}}, "encoding": {"y": {"field": "h", "type": "quantitative"}}},
{"transform": [{"filter": "datum.k === 't' || datum.k === 'e'"}], "mark": {"type": "line", "color": "#333", "strokeWidth": 0.7, "yOffset": {"expr": "datum.r === 'Total score' ? 4 : datum.r === ' ' ? 0.5 : 0"}}, "encoding": {"y": {"datum": 0}}},
{"transform": [{"filter": "datum.k === 't'"}], "mark": {"type": "rule", "color": "#333", "strokeWidth": 0.5, "yOffset": {"expr": "datum.r === 'Total score' ? 4 : datum.r === ' ' ? 0.5 : 0"}, "y2Offset": {"expr": "datum.r === 'Total score' ? 4 : datum.r === ' ' ? 0.5 : 0"}}, "encoding": {"y": {"datum": 0}, "y2": {"datum": -1.5}}},
{"transform": [{"filter": "datum.k === 't' && datum.t !== ''"}], "mark": {"type": "text", "baseline": "top", "dy": 1.5, "fontSize": 4, "color": "#333", "yOffset": {"expr": "datum.r === 'Total score' ? 4 : datum.r === ' ' ? 0.5 : 0"}}, "encoding": {"y": {"datum": 0}, "text": {"field": "t"}}},
{"transform": [{"filter": "datum.k === 'r' && datum.r === ' '"}], "mark": {"type": "rule", "color": "#ff0000", "strokeWidth": 0.7, "yOffset": 0.5, "y2Offset": 0.5}, "encoding": {"y": {"datum": 0}, "y2": {"datum": 12.5}}},
{"transform": [{"filter": "datum.k === 'r'"}], "mark": {"type": "point", "filled": true, "color": "#ff0000", "size": 7, "opacity": 1, "yOffset": {"expr": "datum.r === 'Total score' ? 4 : datum.r === ' ' ? 0.5 : 0"}}, "encoding": {"y": {"datum": 0}}},
{"transform": [{"filter": "datum.k === 's' && datum.r === 'Total score'"}], "mark": {"type": "text", "baseline": "bottom", "dy": -1, "fontSize": 4.5, "color": "#ff0000", "yOffset": 4}, "encoding": {"y": {"datum": 0}, "text": {"field": "t"}}},
{"transform": [{"filter": "datum.k === 's' && datum.r === ' '"}], "mark": {"type": "text", "align": "right", "baseline": "bottom", "dx": -1.5, "dy": -2, "fontSize": 4.5, "color": "#ff0000", "yOffset": 0.5}, "encoding": {"y": {"datum": 0}, "text": {"field": "t"}}},
{"transform": [{"filter": "datum.k === 'n'"}], "mark": {"type": "text", "baseline": "bottom", "dy": -0.5, "fontSize": 4.5, "color": "#333", "yOffset": 0.5}, "encoding": {"y": {"datum": 0}, "text": {"field": "t"}}}
]
}
}
]
}
